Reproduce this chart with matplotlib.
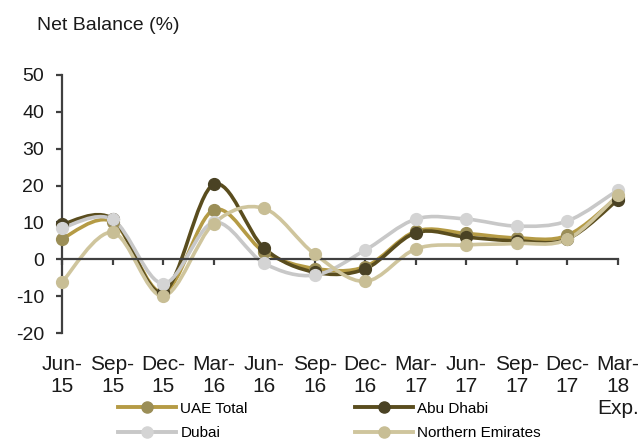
import numpy as np
import matplotlib

matplotlib.use("Agg")
import matplotlib.pyplot as plt
from matplotlib.path import Path
from matplotlib.patches import PathPatch
from matplotlib.lines import Line2D

# data
quarters = ["Jun-\n15", "Sep-\n15", "Dec-\n15", "Mar-\n16", "Jun-\n16", "Sep-\n16",
            "Dec-\n16", "Mar-\n17", "Jun-\n17", "Sep-\n17", "Dec-\n17", "Mar-\n18\nExp."]
uae_total = [5.6, 10.2, -9.0, 13.4, 2.0, -2.5, -2.0, 7.6, 7.0, 5.8, 6.5, 17.0]
abu_dhabi = [9.5, 11.0, -9.0, 20.3, 3.0, -3.5, -2.6, 7.2, 6.0, 5.0, 5.5, 16.2]
dubai = [8.5, 10.8, -6.6, 10.0, -1.1, -4.3, 2.5, 10.9, 10.9, 9.0, 10.4, 18.8]
northern_emirates = [-6.2, 7.3, -10.0, 9.7, 13.8, 1.4, -6.0, 2.8, 3.9, 4.3, 5.4, 17.4]

series = [
    ("UAE Total", uae_total, "#b59b45", "#9b8e57"),
    ("Abu Dhabi", abu_dhabi, "#5a4d1e", "#4a4224"),
    ("Dubai", dubai, "#c8c8c8", "#d4d4d4"),
    ("Northern Emirates", northern_emirates, "#cfc59d", "#c8be95"),
]

plt.rcParams["font.family"] = ["Liberation Sans", "DejaVu Sans"]
plt.rcParams["axes.unicode_minus"] = False
AXIS_COLOR = "#404040"
TEXT_COLOR = "#1a1a1a"


def smooth_path(xs, ys):
    # Excel-style smoothed line: cubic Bezier segments through the points
    pts = np.column_stack([xs, ys]).astype(float)
    n = len(pts)
    verts = [pts[0]]
    codes = [Path.MOVETO]
    for i in range(n - 1):
        p0 = pts[max(i - 1, 0)]
        p1 = pts[i]
        p2 = pts[i + 1]
        p3 = pts[min(i + 2, n - 1)]
        c1 = p1 + (p2 - p0) / 6.0
        c2 = p2 - (p3 - p1) / 6.0
        verts += [c1, c2, p2]
        codes += [Path.CURVE4] * 3
    return Path(verts, codes)


fig = plt.figure(figsize=(6.43, 4.43), dpi=100)
ax = fig.add_axes([0.0964, 0.2483, 0.8647, 0.5824])

x = np.arange(len(quarters))
handles = []
for name, vals, line_c, mark_c in series:
    patch = PathPatch(smooth_path(x, vals), facecolor="none", edgecolor=line_c,
                      linewidth=2.6, capstyle="round", joinstyle="round", clip_on=False)
    ax.add_patch(patch)
    ax.plot(x, vals, linestyle="none", marker="o", markersize=8.5,
            markerfacecolor=mark_c, markeredgecolor=mark_c, clip_on=False, zorder=3)
    handles.append(Line2D([], [], color=line_c, linewidth=2.8, marker="o", markersize=8,
                          markerfacecolor=mark_c, markeredgecolor=mark_c, label=name))

ax.set_xlim(0, len(quarters) - 1)
ax.set_ylim(-20, 50)
ax.set_yticks(np.arange(-20, 51, 10))

for side in ["top", "right"]:
    ax.spines[side].set_visible(False)
ax.spines["left"].set_color(AXIS_COLOR)
ax.spines["left"].set_linewidth(1.6)
ax.spines["bottom"].set_position(("data", 0))
ax.spines["bottom"].set_color(AXIS_COLOR)
ax.spines["bottom"].set_linewidth(1.6)
ax.set_xticks(x)
ax.tick_params(axis="x", direction="out", length=4, width=1.6, color=AXIS_COLOR,
               labelbottom=False)
ax.tick_params(axis="y", direction="out", length=4, width=1.6, color=AXIS_COLOR,
               labelsize=14, labelcolor=TEXT_COLOR, pad=9)

# category labels sit under the plot, not on the zero line
sec = ax.secondary_xaxis("bottom")
sec.spines["bottom"].set_visible(False)
sec.set_xticks(x)
sec.set_xticklabels(quarters, fontsize=15, color=TEXT_COLOR, linespacing=1.2)
sec.tick_params(axis="x", length=0, pad=16)

fig.text(0.058, 0.943, "Net Balance (%)", fontsize=14, color=TEXT_COLOR, va="center")

order = [handles[0], handles[2], handles[1], handles[3]]
fig.legend(handles=order, labels=[h.get_label() for h in order], ncol=2, frameon=False,
           loc="upper left", bbox_to_anchor=(0.183, 0.093),
           prop={"family": ["Liberation Sans Narrow", "Liberation Sans"], "size": 11},
           handlelength=3.8, handletextpad=0.3, columnspacing=7.0, labelspacing=0.68,
           borderpad=0, borderaxespad=0)

fig.savefig("out.png", dpi=100)
